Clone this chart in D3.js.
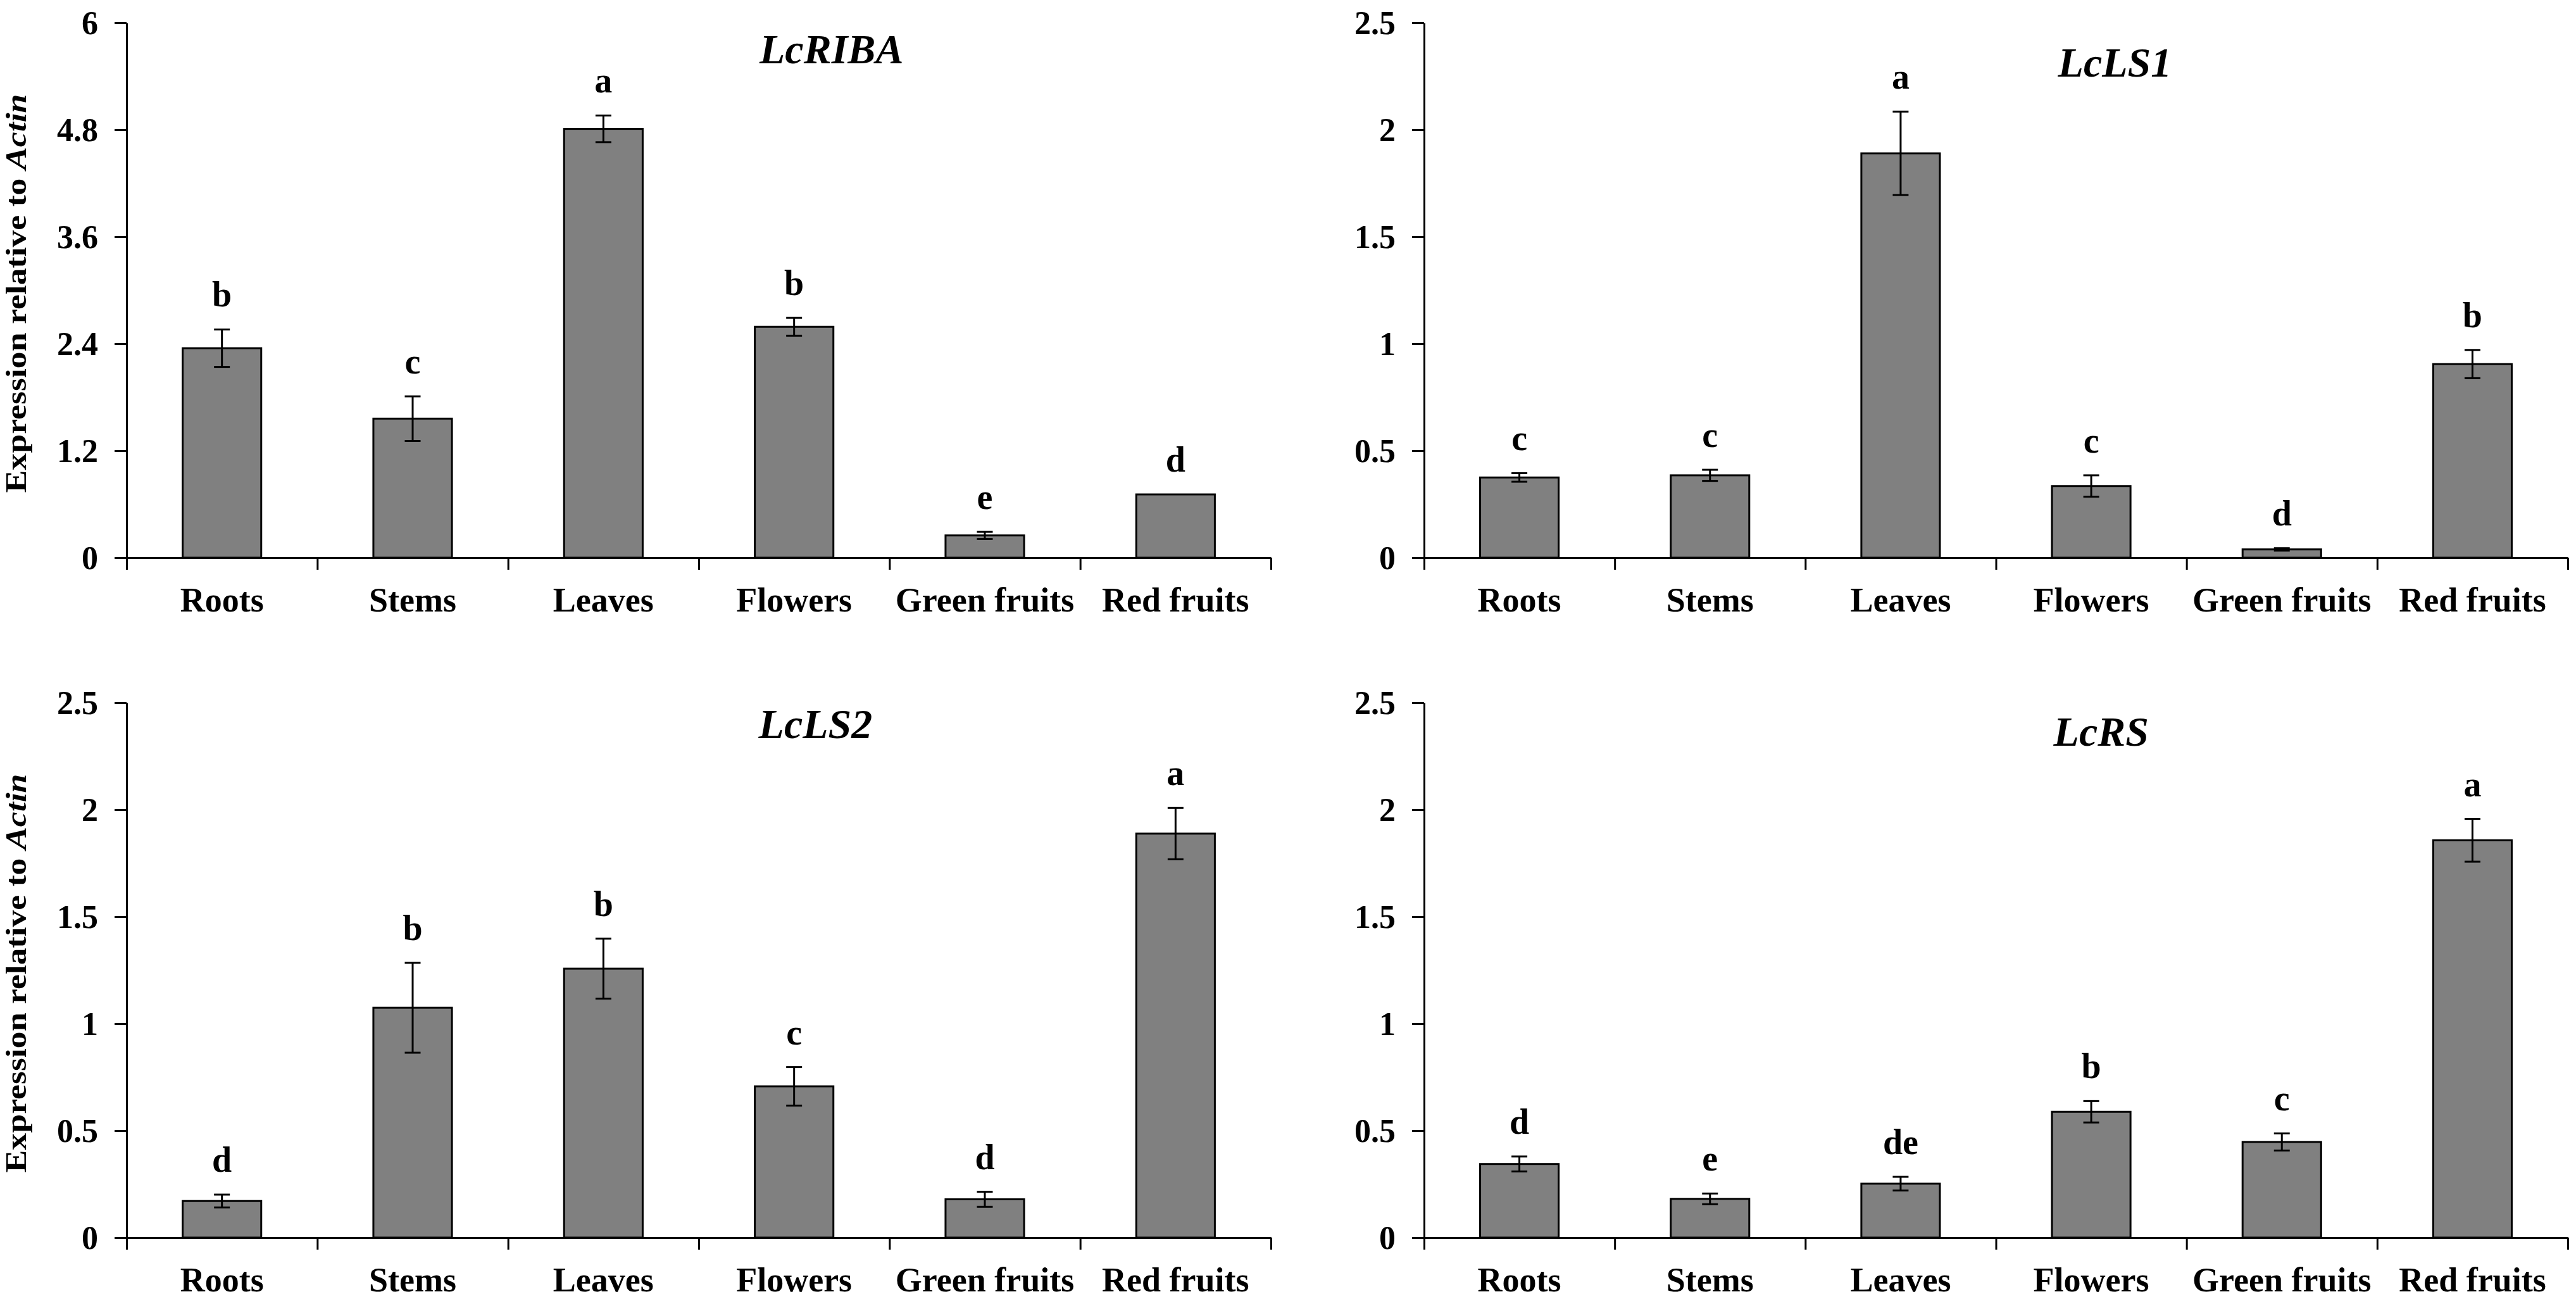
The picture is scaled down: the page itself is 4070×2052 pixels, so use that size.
<!DOCTYPE html>
<html>
<head>
<meta charset="utf-8">
<script src="https://cdn.jsdelivr.net/npm/d3@7"></script>
<style>
  html, body { margin: 0; padding: 0; background: #ffffff; }
  svg { display: block; }
  text { font-family: "Liberation Serif", "Times New Roman", Times, serif; font-weight: bold; fill: #000; }
</style>
</head>
<body>
<svg id="chart" width="4070" height="2052"></svg>
<script>
// ---------------- DATA ----------------
const categories = ["Roots", "Stems", "Leaves", "Flowers", "Green fruits", "Red fruits"];

const genes = ["LcRIBA", "LcLS1", "LcLS2", "LcRS"];

const lcRIBA_values = [2.35, 1.56, 4.81, 2.59, 0.25, 0.71];
const lcRIBA_errors = [0.21, 0.25, 0.15, 0.10, 0.04, 0.0];
const lcRIBA_letters = ["b", "c", "a", "b", "e", "d"];
const lcRIBA_ticks = [0, 1.2, 2.4, 3.6, 4.8, 6];
const lcRIBA_tickLabels = ["0", "1.2", "2.4", "3.6", "4.8", "6"];

const lcLS1_values = [0.375, 0.385, 1.89, 0.335, 0.039, 0.905];
const lcLS1_errors = [0.02, 0.026, 0.195, 0.05, 0.006, 0.066];
const lcLS1_letters = ["c", "c", "a", "c", "d", "b"];

const lcLS2_values = [0.171, 1.074, 1.257, 0.707, 0.179, 1.888];
const lcLS2_errors = [0.03, 0.21, 0.14, 0.09, 0.035, 0.12];
const lcLS2_letters = ["d", "b", "b", "c", "d", "a"];

const lcRS_values = [0.344, 0.181, 0.252, 0.588, 0.447, 1.857];
const lcRS_errors = [0.035, 0.025, 0.032, 0.05, 0.04, 0.10];
const lcRS_letters = ["d", "e", "de", "b", "c", "a"];

const small_ticks = [0, 0.5, 1, 1.5, 2, 2.5];
const small_tickLabels = ["0", "0.5", "1", "1.5", "2", "2.5"];

const yLabelMain = "Expression relative to ";
const yLabelItalic = "Actin";

// ---------------- LAYOUT ----------------
const panels = [
  { gene: genes[0], values: lcRIBA_values, errors: lcRIBA_errors, letters: lcRIBA_letters,
    ticks: lcRIBA_ticks, tickLabels: lcRIBA_tickLabels,
    x0: 200, x1: 2008, y0: 36, y1: 881, titleFx: 0.616, titleDy: 64, ylabel: true },
  { gene: genes[1], values: lcLS1_values, errors: lcLS1_errors, letters: lcLS1_letters,
    ticks: small_ticks, tickLabels: small_tickLabels,
    x0: 2250, x1: 4057, y0: 36, y1: 881, titleFx: 0.604, titleDy: 85, ylabel: false },
  { gene: genes[2], values: lcLS2_values, errors: lcLS2_errors, letters: lcLS2_letters,
    ticks: small_ticks, tickLabels: small_tickLabels,
    x0: 200, x1: 2008, y0: 1110, y1: 1955, titleFx: 0.602, titleDy: 56, ylabel: true },
  { gene: genes[3], values: lcRS_values, errors: lcRS_errors, letters: lcRS_letters,
    ticks: small_ticks, tickLabels: small_tickLabels,
    x0: 2250, x1: 4057, y0: 1110, y1: 1955, titleFx: 0.592, titleDy: 68, ylabel: true && false }
];
panels[3].ylabel = false;

const svg = d3.select("#chart");
const AXIS_W = 3;
const TICK = 19;

panels.forEach(p => {
  const g = svg.append("g");
  const tmax = p.ticks[p.ticks.length - 1];

  const x = d3.scaleBand().domain(categories).range([p.x0, p.x1])
    .paddingInner(0.588).paddingOuter(0.294);
  const xb = d3.scaleLinear().domain([0, categories.length]).range([p.x0, p.x1]);
  const y = d3.scaleLinear().domain([0, tmax]).range([p.y1, p.y0]);

  const rows = categories.map((c, i) => ({ c, v: p.values[i], e: p.errors[i], l: p.letters[i] }));

  // bars
  g.selectAll("rect.bar").data(rows).join("rect")
    .attr("class", "bar")
    .attr("x", d => x(d.c))
    .attr("width", x.bandwidth())
    .attr("y", d => y(d.v))
    .attr("height", d => y(0) - y(d.v))
    .attr("fill", "#808080")
    .attr("stroke", "#000")
    .attr("stroke-width", 3);

  // error bars
  const capW = 25;
  const eb = g.selectAll("g.err").data(rows.filter(d => d.e > 0)).join("g").attr("class", "err");
  eb.append("line")
    .attr("x1", d => x(d.c) + x.bandwidth() / 2).attr("x2", d => x(d.c) + x.bandwidth() / 2)
    .attr("y1", d => y(d.v + d.e)).attr("y2", d => y(d.v - d.e))
    .attr("stroke", "#000").attr("stroke-width", 3);
  eb.append("line")
    .attr("x1", d => x(d.c) + x.bandwidth() / 2 - capW / 2).attr("x2", d => x(d.c) + x.bandwidth() / 2 + capW / 2)
    .attr("y1", d => y(d.v + d.e)).attr("y2", d => y(d.v + d.e))
    .attr("stroke", "#000").attr("stroke-width", 3);
  eb.append("line")
    .attr("x1", d => x(d.c) + x.bandwidth() / 2 - capW / 2).attr("x2", d => x(d.c) + x.bandwidth() / 2 + capW / 2)
    .attr("y1", d => y(d.v - d.e)).attr("y2", d => y(d.v - d.e))
    .attr("stroke", "#000").attr("stroke-width", 3);

  // significance letters
  g.selectAll("text.sig").data(rows).join("text")
    .attr("class", "sig")
    .attr("x", d => x(d.c) + x.bandwidth() / 2)
    .attr("y", d => y(d.v + d.e) - 36)
    .attr("text-anchor", "middle")
    .attr("font-size", 56)
    .text(d => d.l);

  // y axis
  const yAxis = d3.axisLeft(y)
    .tickValues(p.ticks)
    .tickFormat((d, i) => p.tickLabels[i])
    .tickSize(TICK).tickSizeOuter(0).tickPadding(26);
  const ya = g.append("g").attr("transform", `translate(${p.x0},0)`).call(yAxis);
  ya.select(".domain").attr("stroke-width", AXIS_W);
  ya.selectAll(".tick line").attr("stroke-width", AXIS_W);
  ya.selectAll(".tick text")
    .attr("font-size", 52)
    .attr("font-family", "'Liberation Serif', 'Times New Roman', serif")
    .attr("font-weight", "bold")
    .attr("dy", "0.34em");

  // x axis (ticks at category boundaries)
  const xAxis = d3.axisBottom(xb)
    .tickValues(d3.range(categories.length + 1))
    .tickFormat("")
    .tickSize(TICK).tickSizeOuter(0);
  const xa = g.append("g").attr("transform", `translate(0,${p.y1})`).call(xAxis);
  xa.select(".domain").attr("stroke-width", AXIS_W);
  xa.selectAll(".tick line").attr("stroke-width", AXIS_W);

  // category labels
  g.selectAll("text.cat").data(categories).join("text")
    .attr("class", "cat")
    .attr("x", d => x(d) + x.bandwidth() / 2)
    .attr("y", p.y1 + 85)
    .attr("text-anchor", "middle")
    .attr("font-size", 54)
    .text(d => d);

  // title
  g.append("text")
    .attr("x", p.x0 + (p.x1 - p.x0) * p.titleFx)
    .attr("y", p.y0 + p.titleDy)
    .attr("text-anchor", "middle")
    .attr("font-size", 66)
    .attr("font-style", "italic")
    .text(p.gene);

  // y label
  if (p.ylabel) {
    const cy = (p.y0 + p.y1) / 2 + 5;
    const t = g.append("text")
      .attr("transform", `translate(41,${cy}) rotate(-90)`)
      .attr("text-anchor", "middle")
      .attr("font-size", 46)
      .attr("textLength", 630)
      .attr("lengthAdjust", "spacingAndGlyphs");
    t.append("tspan").text(yLabelMain);
    t.append("tspan").attr("font-style", "italic").text(yLabelItalic);
  }
});
</script>
</body>
</html>
